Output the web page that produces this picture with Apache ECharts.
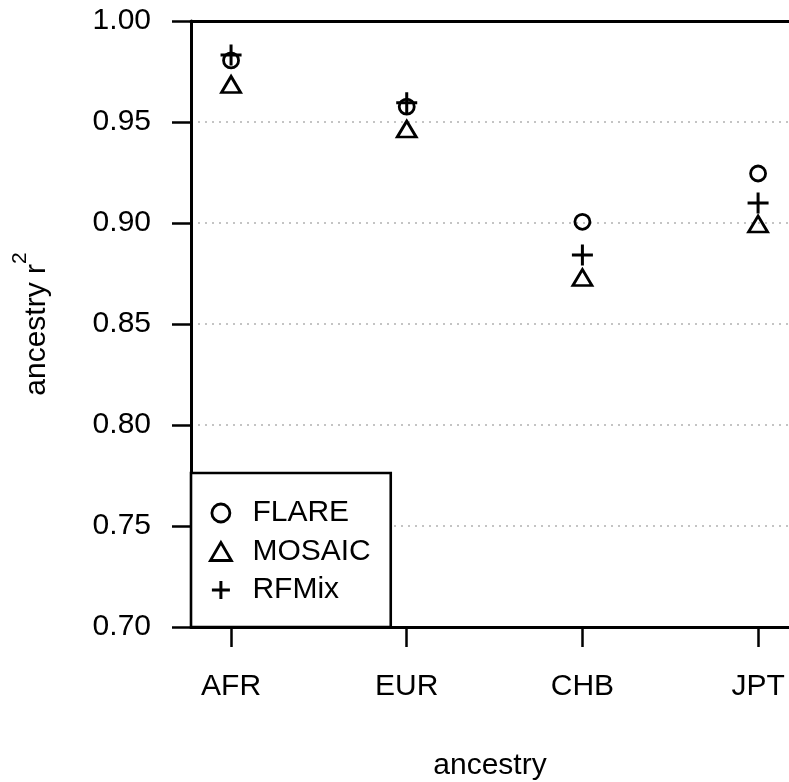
<!DOCTYPE html>
<html>
<head>
<meta charset="utf-8">
<script src="https://cdn.jsdelivr.net/npm/echarts@6.0.0/dist/echarts.min.js"></script>
<style>
  html, body { margin: 0; padding: 0; background: #fff; }
  #chart { width: 789px; height: 782px; }
</style>
</head>
<body>
<div id="chart"></div>
<script>
// populations on the x axis
const ancestries = ['AFR', 'EUR', 'CHB', 'JPT'];
// r^2 per method, same order as ancestries
const flare  = [0.9805, 0.9576, 0.9006, 0.9245];
const mosaic = [0.9686, 0.9465, 0.8730, 0.8995];
const rfmix  = [0.9832, 0.9595, 0.8842, 0.9099];
const yTicks = [0.70, 0.75, 0.80, 0.85, 0.90, 0.95, 1.00];

const font = 'Liberation Sans, Arial, sans-serif';
const plusPath = 'path://M0,10L20,10M10,0L10,20';

function pts(vals) {
  return vals.map((v, i) => [i + 1, v]);
}

// open black symbols, scatter is 0.8 opaque by default
const openStyle = { color: 'transparent', borderColor: '#000', borderWidth: 2.8, opacity: 1 };
const plusStyle = { color: 'transparent', borderColor: '#000', borderWidth: 3, opacity: 1 };

let chart = echarts.init(document.getElementById('chart'), null, { renderer: 'canvas' });

let option = {
  animation: false,
  backgroundColor: '#fff',
  textStyle: { fontFamily: font, color: '#000' },
  grid: { left: 191, right: 0, top: 21, bottom: 155, show: false, outerBoundsMode: 'none', containLabel: false },
  legend: {
    orient: 'vertical',
    left: 191,
    top: 473,
    padding: [25, 20, 22, 18],
    itemGap: 8.5,
    itemWidth: 21,
    itemHeight: 18,
    backgroundColor: '#fff',
    borderColor: '#000',
    borderWidth: 2.6,
    borderRadius: 0,
    textStyle: { fontFamily: font, fontSize: 30, lineHeight: 30, color: '#000', padding: [0, 0, 0, 16] },
    data: [
      { name: 'FLARE', icon: 'circle', itemStyle: openStyle },
      { name: 'MOSAIC', icon: 'triangle', itemStyle: openStyle },
      { name: 'RFMix', icon: plusPath, itemStyle: plusStyle }
    ]
  },
  xAxis: [{
    type: 'value',
    min: 0.772,
    max: 4.176,
    name: 'ancestry',
    nameLocation: 'middle',
    nameGap: 124,
    nameTextStyle: { fontFamily: font, fontSize: 30, color: '#000' },
    axisLine: { show: true, onZero: false, lineStyle: { color: '#000', width: 3 } },
    axisTick: { show: true, length: 20, customValues: [1, 2, 3, 4], lineStyle: { color: '#000', width: 2.5 } },
    axisLabel: {
      customValues: [1, 2, 3, 4],
      margin: 45,
      fontFamily: font, fontSize: 30, color: '#000',
      formatter: v => ancestries[Math.round(v) - 1] || ''
    },
    splitLine: { show: false }
  }, {
    type: 'value',
    position: 'top',
    min: 0.772,
    max: 4.176,
    axisLine: { show: true, onZero: false, lineStyle: { color: '#000', width: 3 } },
    axisTick: { show: false },
    axisLabel: { show: false },
    splitLine: { show: false }
  }],
  yAxis: {
    type: 'value',
    min: 0.70,
    max: 1.00,
    interval: 0.05,
    name: '{a|ancestry r}{s|2}',
    nameLocation: 'middle',
    nameGap: 139,
    nameRotate: 90,
    nameTextStyle: {
      rich: {
        a: { fontFamily: font, fontSize: 30, color: '#000', lineHeight: 42, verticalAlign: 'bottom' },
        s: { fontFamily: font, fontSize: 21, color: '#000', lineHeight: 42, verticalAlign: 'top' }
      }
    },
    axisLine: { show: true, lineStyle: { color: '#000', width: 3 } },
    axisTick: { show: true, length: 19, lineStyle: { color: '#000', width: 2.5 } },
    axisLabel: {
      margin: 40,
      fontFamily: font, fontSize: 30, color: '#000',
      formatter: v => yTicks.find(t => Math.abs(t - v) < 1e-6).toFixed(2)
    },
    splitLine: {
      show: true,
      lineStyle: { color: '#c4c4c4', width: 2, type: [2, 5] }
    }
  },
  series: [
    {
      name: 'FLARE', type: 'scatter', data: pts(flare),
      symbol: 'circle', symbolSize: 15, itemStyle: openStyle, z: 3
    },
    {
      name: 'MOSAIC', type: 'scatter', data: pts(mosaic),
      symbol: 'triangle', symbolSize: [19, 16], itemStyle: openStyle, z: 3
    },
    {
      name: 'RFMix', type: 'scatter', data: pts(rfmix),
      symbol: plusPath, symbolSize: 21, itemStyle: plusStyle, z: 3
    }
  ]
};

option && chart.setOption(option);
</script>
</body>
</html>
